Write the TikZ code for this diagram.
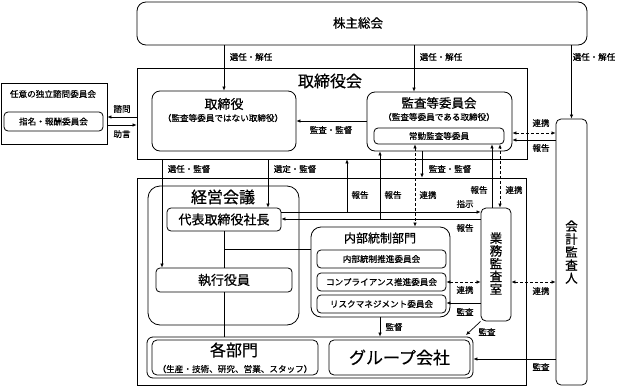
\documentclass[tikz,border=0pt]{standalone}
\usepackage{fontspec}
\setmainfont{Noto Sans CJK JP}[FakeBold=0.6]
\usetikzlibrary{arrows.meta}
\begin{document}
\begin{tikzpicture}[x=1pt,y=-1pt,
  frm/.style={draw, line width=0.8pt, inner sep=0pt},
  bx/.style={draw, line width=0.8pt, fill=white, inner sep=0pt, rounded corners=#1},
  bx/.default=4pt,
  ln/.style={line width=0.7pt},
  arr/.style={ln,-{Latex[length=4pt,width=3.6pt]}},
  darr/.style={ln,dash pattern=on 3pt off 2pt,{Latex[length=4pt,width=3.6pt]}-{Latex[length=4pt,width=3.6pt]}},
  lbl/.style={font=\fontsize{8.5}{9}\selectfont, inner sep=0pt},
  small/.style={font=\fontsize{8.6}{9}\selectfont, inner sep=0pt},
  mid/.style={font=\fontsize{12.5}{13}\selectfont, inner sep=0pt},
  big/.style={font=\fontsize{16}{17}\selectfont, inner sep=0pt},
  vert/.style={align=center, inner sep=0pt}
]
\useasboundingbox (0,0) rectangle (622,386);

% frames
\node[frm, minimum width=390pt, minimum height=91pt] (torikai) at (332,113.5) {};
\node[big] (torikaiT) at (330,81) {取締役会};
\node[frm, minimum width=389pt, minimum height=207pt] (exec) at (331.5,281.5) {};
\node[frm, minimum width=106pt, minimum height=61pt] (nin) at (54,113.5) {};
\node[small] (ninT) at (53,94) {任意の独立諮問委員会};
\node[bx=4pt, minimum width=99pt, minimum height=19pt, small] (shimei) at (53.5,121.5) {指名・報酬委員会};

% top
\node[bx=9pt, minimum width=450pt, minimum height=43pt] (kabu) at (362,23.5) {};
\node[mid] (kabuT) at (358,23) {株主総会};

% board boxes
\node[bx=8pt, minimum width=144pt, minimum height=60pt] (tori) at (224,121) {};
\node[mid, font=\fontsize{13}{14}\selectfont] (toriT) at (224,104) {取締役};
\node[small] (toriS) at (223,118) {（監査等委員ではない取締役）};
\node[bx=8pt, minimum width=145pt, minimum height=59pt] (kansa) at (439.5,121.5) {};
\node[mid] (kansaT) at (439,103) {監査等委員会};
\node[small] (kansaS) at (439,117) {（監査等委員である取締役）};
\node[bx=4pt, minimum width=130pt, minimum height=16pt, small] (joukin) at (439,136) {常勤監査等委員};

% auditor
\node[bx=5pt, minimum width=31pt, minimum height=266pt] (kaikei) at (571.5,252) {};
\node[vert, font=\fontsize{12.5}{13}\selectfont] (kaikeiT) at (571.5,252) {会\\計\\監\\査\\人};

% management
\node[bx=12pt, minimum width=151pt, minimum height=139pt] (keiei) at (223.5,255.5) {};
\node[big] (keieiT) at (223,197) {経営会議};
\node[bx=4pt, minimum width=114pt, minimum height=23pt, font=\fontsize{13}{14}\selectfont] (shachou) at (224,219.5) {代表取締役社長};
\node[bx=4pt, minimum width=136pt, minimum height=24pt, font=\fontsize{13}{14}\selectfont] (shikkou) at (224,280) {執行役員};

% internal control
\node[bx=10pt, minimum width=139pt, minimum height=90pt] (naibu) at (380.5,272) {};
\node[font=\fontsize{12}{13}\selectfont, inner sep=0pt] (naibuT) at (380,238) {内部統制部門};
\node[bx=4pt, minimum width=129pt, minimum height=18pt, small] (n1) at (381.5,259) {内部統制推進委員会};
\node[bx=4pt, minimum width=129pt, minimum height=18pt, small] (n2) at (381.5,282) {コンプライアンス推進委員会};
\node[bx=4pt, minimum width=129pt, minimum height=18pt, small] (n3) at (381.5,304) {リスクマネジメント委員会};

% internal audit
\node[bx=5pt, minimum width=30pt, minimum height=113pt] (gyoumu) at (496,264.5) {};
\node[vert, font=\fontsize{12.5}{12.8}\selectfont] (gyoumuT) at (496,263.5) {業\\務\\監\\査\\室};

% bottom
\node[bx=6pt, minimum width=326pt, minimum height=41pt] (bottom) at (310,357.5) {};
\node[bx=5pt, minimum width=166pt, minimum height=35pt] (kakubu) at (235,357.5) {};
\node[big] (kakubuT) at (234,350) {各部門};
\node[small] (kakubuS) at (235,369) {（生産・技術、研究、営業、スタッフ）};
\node[bx=5pt, minimum width=141pt, minimum height=35pt, font=\fontsize{17}{18}\selectfont] (group) at (399.5,357.5) {グループ会社};

% connectors from shareholders
\draw[arr] (tori.north |- kabu.south) -- (tori.north);
\node[lbl] at (251,57) {選任・解任};
\draw[arr] (414,0 |- kabu.south) -- (414,0 |- kansa.north);
\node[lbl] at (441,57) {選任・解任};
\draw[arr] (kaikei.north |- kabu.south) -- (kaikei.north);
\node[lbl] at (594,57) {選任・解任};

% advisory committee
\draw[arr] (torikai.west |- 0,117) -- (nin.east |- 0,117);
\node[lbl] at (122,109) {諮問};
\draw[arr] (nin.east |- 0,125) -- (torikai.west |- 0,125);
\node[lbl] at (122,134) {助言};

% board internal
\draw[arr] (kansa.west |- 0,121) -- (tori.east |- 0,121);
\node[lbl] at (331,130) {監査・監督};
\draw[darr] (kansa.east |- 0,133) -- (kaikei.west |- 0,133);
\node[lbl] at (541,123) {連携};
\draw[arr] (kaikei.west |- 0,140) -- (kansa.east |- 0,140);
\node[lbl] at (541,148) {報告};

% board to management
\draw[arr] (162,0 |- torikai.south) -- (162,0 |- shikkou.north);
\node[lbl] at (189,169) {選任・監督};
\draw[arr] (268,0 |- torikai.south) -- (268,0 |- shachou.north);
\node[lbl] at (295,169) {選定・監督};
\draw[arr] (422,0 |- kansa.south) -- (422,0 |- exec.north);
\node[lbl] at (450,169) {監査・監督};
\draw[darr] (415,0 |- joukin.south) -- (415,0 |- naibu.north);
\node[lbl] at (428,195) {連携};

% president <-> internal audit
\draw[arr] (shachou.east |- 0,212) -- (gyoumu.west |- 0,212);
\node[lbl] at (465,204) {指示};
\draw[arr] (gyoumu.west |- 0,219) -- (shachou.east |- 0,219);
\node[lbl] at (465,228) {報告};
\coordinate (r1) at (347,212);
\coordinate (r2) at (380,219);
\draw[arr] (r1) -- (r1 |- torikai.south);
\node[lbl] at (360,195) {報告};
\draw[arr] (r2) -- (r2 |- kansa.south);
\node[lbl] at (393,195) {報告};
\draw[arr] (492,0 |- gyoumu.north) -- (492,0 |- joukin.south);
\node[lbl] at (479,190) {報告};
\draw[darr] (500,0 |- gyoumu.north) -- (500,0 |- joukin.south);
\node[lbl] at (514,190) {連携};

% president lines
\draw[ln] (shachou.south) -- (shikkou.north -| shachou.south);
\draw[ln] (shikkou.south -| shachou.south) -- (bottom.north -| shachou.south);
\draw[ln] (shachou.south |- 0,249) -- (naibu.west |- 0,249);

% internal audit connections
\draw[darr] (n2.east) -- (gyoumu.west |- n2.east);
\node[lbl] at (465,290) {連携};
\draw[arr] (gyoumu.west |- 0,303) -- (n3.east |- 0,303);
\node[lbl] at (465,312) {監査};
\draw[darr] (gyoumu.east |- 0,282) -- (kaikei.west |- 0,282);
\node[lbl] at (541,291) {連携};
\draw[arr] (380,0 |- naibu.south) -- (380,0 |- bottom.north);
\node[lbl] at (394,327) {監督};
\coordinate (gtip) at (466,335);
\draw[arr] (gyoumu.south west) -- (gtip);
\node[lbl] at (487,332) {監査};
\draw[arr] (kaikei.west |- 0,359) -- (bottom.east |- 0,359);
\node[lbl] at (541,367) {監査};
\end{tikzpicture}
\end{document}
